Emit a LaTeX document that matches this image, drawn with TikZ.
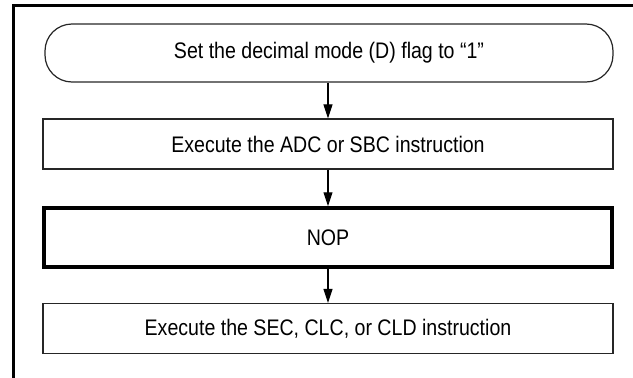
\documentclass[tikz,border=0pt]{standalone}
\usepackage{fontspec}
\setmainfont[FakeStretch=0.87]{Liberation Sans}
\usetikzlibrary{arrows.meta}
\begin{document}
\begin{tikzpicture}[x=1pt,y=-1pt,
  lbl/.style={font=\fontsize{22.5}{26}\selectfont, inner sep=0pt, text=black},
  stepbox/.style={lbl, draw=black!85, line width=1.2pt, minimum width=570pt, minimum height=50pt},
  termbox/.style={lbl, draw=black!85, line width=1.2pt, minimum width=568pt, minimum height=58pt, rounded corners=27pt},
  thickbox/.style={lbl, draw=black, line width=3.5pt, minimum width=568pt, minimum height=59pt},
  flow/.style={line width=1.1pt, -{Triangle[length=14pt,width=9pt]}}]
\useasboundingbox (0,0) rectangle (633,378);
\coordinate (fa) at (13.5,378);
\coordinate (fb) at (13.5,5.3);
\coordinate (fc) at (633,5.3);
\draw[line width=2.7pt] (fa) -- (fb) -- (fc);
\node[termbox] (t) at (329,53) {Set the decimal mode (D) flag to “1”};
\node[stepbox] (b1) at (328,144) {Execute the ADC or SBC instruction};
\node[thickbox] (b2) at (328,237.5) {NOP};
\node[stepbox] (b3) at (328,328.5) {Execute the SEC, CLC, or CLD instruction};
\draw[flow] (t.south -| b1.north) -- (b1.north);
\draw[flow] (b1.south) -- (b2.north);
\draw[flow] (b2.south) -- (b3.north);
\end{tikzpicture}
\end{document}
